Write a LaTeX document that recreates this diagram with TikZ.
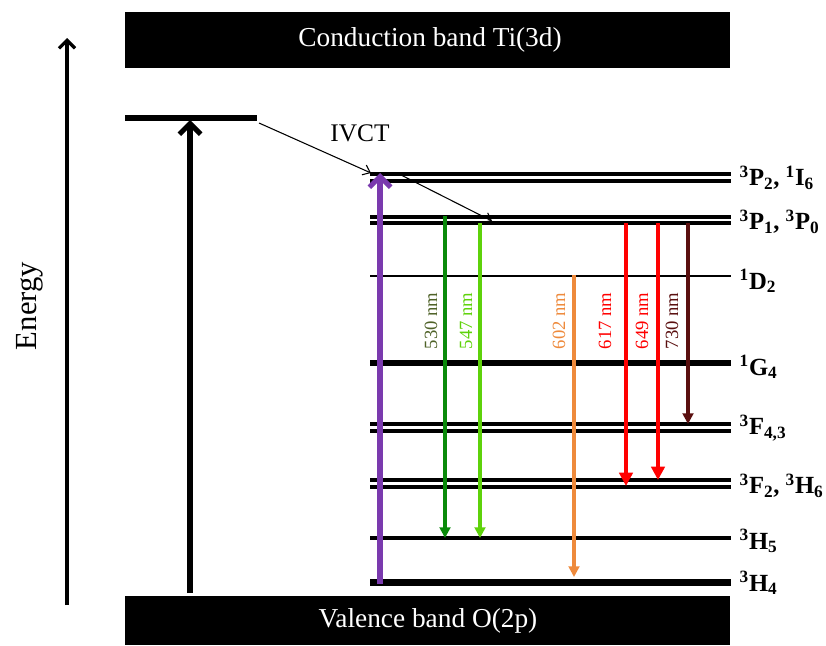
\documentclass[tikz,border=0pt]{standalone}
\usepackage{fontspec}
\setmainfont{Liberation Serif}
\usetikzlibrary{arrows.meta}
\definecolor{dgreen}{HTML}{0A8A0A}
\definecolor{lgreen}{HTML}{5ED20A}
\definecolor{lbl530}{HTML}{4F6228}
\definecolor{orng}{HTML}{EE8A3C}
\definecolor{brn}{HTML}{5A0F0F}
\definecolor{purp}{HTML}{7A3AAE}
\tikzset{
  band/.style={fill=black,draw=none},
  bandtext/.style={text=white,font=\fontsize{20.5}{22}\selectfont},
  lvl/.style={line width=3pt},
  lvlthin/.style={line width=2.2pt},
  lvlthick/.style={line width=5pt},
  lvllabel/.style={anchor=west,font=\fontsize{18.5}{20}\selectfont\bfseries},
  emis/.style={line width=2.4pt,-{Triangle[length=8pt,width=8pt]}},
  emisbig/.style={line width=3.2pt,-{Triangle[length=10pt,width=10pt]}},
  nmlabel/.style={rotate=90,font=\fontsize{14}{16}\selectfont}
}
\begin{document}
\begin{tikzpicture}[x=0.75pt,y=-0.75pt]
\useasboundingbox (0,0) rectangle (826,646);
% bands
\fill[band] (125,12) rectangle (730,68);
\node[bandtext] (cb) at (430,40) {Conduction band Ti(3d)};
\fill[band] (125,596) rectangle (730,645);
\node[bandtext] (vb) at (428,621) {Valence band O(2p)};
% energy axis
\coordinate (e0) at (67,605);
\coordinate (e1) at (67,38);
\draw[line width=2.4pt,-{Straight Barb[length=6pt,width=12pt]}] (e0) -- (e1);
\node[rotate=90,font=\fontsize{23}{25}\selectfont] (en) at (30,306) {Energy};
% left level
\coordinate (ll0) at (125,118);
\coordinate (ll1) at (257,118);
\draw[line width=4.5pt] (ll0) -- (ll1);
\coordinate (a0) at (190,593);
\coordinate (a1) at (190,120);
\draw[line width=3.8pt,-{Straight Barb[length=8pt,width=16pt]}] (a0) -- (a1);
% levels
\def\xa{370}\def\xb{731}
\draw[lvl] (\xa,174) -- (\xb,174);
\draw[lvl] (\xa,181) -- (\xb,181);
\draw[lvl] (\xa,216.5) -- (\xb,216.5);
\draw[lvl] (\xa,223) -- (\xb,223);
\draw[lvlthin] (\xa,276) -- (\xb,276);
\draw[lvlthick] (\xa,363) -- (\xb,363);
\draw[lvl] (\xa,424) -- (\xb,424);
\draw[lvl] (\xa,430.5) -- (\xb,430.5);
\draw[lvl] (\xa,480) -- (\xb,480);
\draw[lvl] (\xa,486.5) -- (\xb,486.5);
\draw[lvl] (\xa,538) -- (\xb,538);
\draw[lvlthick] (\xa,582.5) -- (\xb,582.5);
% level labels
\node[lvllabel] (l1) at (735,178) {\textsuperscript{3}P\textsubscript{2}, \textsuperscript{1}I\textsubscript{6}};
\node[lvllabel] (l2) at (735,222) {\textsuperscript{3}P\textsubscript{1}, \textsuperscript{3}P\textsubscript{0}};
\node[lvllabel] (l3) at (735,281) {\textsuperscript{1}D\textsubscript{2}};
\node[lvllabel] (l4) at (735,367) {\textsuperscript{1}G\textsubscript{4}};
\node[lvllabel] (l5) at (735,428) {\textsuperscript{3}F\textsubscript{4,3}};
\node[lvllabel] (l6) at (735,486) {\textsuperscript{3}F\textsubscript{2}, \textsuperscript{3}H\textsubscript{6}};
\node[lvllabel] (l7) at (735,541) {\textsuperscript{3}H\textsubscript{5}};
\node[lvllabel] (l8) at (735,583) {\textsuperscript{3}H\textsubscript{4}};
% IVCT
\node[font=\fontsize{19}{21}\selectfont] (ivct) at (360,133) {IVCT};
\coordinate (i0) at (259,123);
\coordinate (i1) at (371,173);
\draw[line width=0.8pt,-{Straight Barb[length=5pt,width=8pt]}] (i0) -- (i1);
\coordinate (j0) at (401,175);
\coordinate (j1) at (492,221);
\draw[line width=0.8pt,-{Straight Barb[length=5pt,width=8pt]}] (j0) -- (j1);
% excitation
\coordinate (p0) at (380,584);
\coordinate (p1) at (380,173);
\draw[purp,line width=3.8pt,-{Straight Barb[length=8pt,width=16pt]}] (p0) -- (p1);
% emissions
\coordinate (g0) at (445,216); \coordinate (g1) at (445,538);
\draw[emis,dgreen] (g0) -- (g1);
\coordinate (h0) at (480,223); \coordinate (h1) at (480,538);
\draw[emis,lgreen] (h0) -- (h1);
\coordinate (o0) at (574,275); \coordinate (o1) at (574,577);
\draw[emis,orng] (o0) -- (o1);
\coordinate (r0) at (626,223); \coordinate (r1) at (626,486);
\draw[emisbig,red] (r0) -- (r1);
\coordinate (s0) at (658,223); \coordinate (s1) at (658,480);
\draw[emisbig,red] (s0) -- (s1);
\coordinate (t0) at (688,223); \coordinate (t1) at (688,424);
\draw[emis,brn] (t0) -- (t1);
% nm labels
\node[nmlabel,text=lbl530] (n1) at (431,321) {530 nm};
\node[nmlabel,text=lgreen] (n2) at (466,321) {547 nm};
\node[nmlabel,text=orng] (n3) at (559,321) {602 nm};
\node[nmlabel,text=red] (n4) at (605,321) {617 nm};
\node[nmlabel,text=red] (n5) at (642,321) {649 nm};
\node[nmlabel,text=brn] (n6) at (672,321) {730 nm};
\end{tikzpicture}
\end{document}
